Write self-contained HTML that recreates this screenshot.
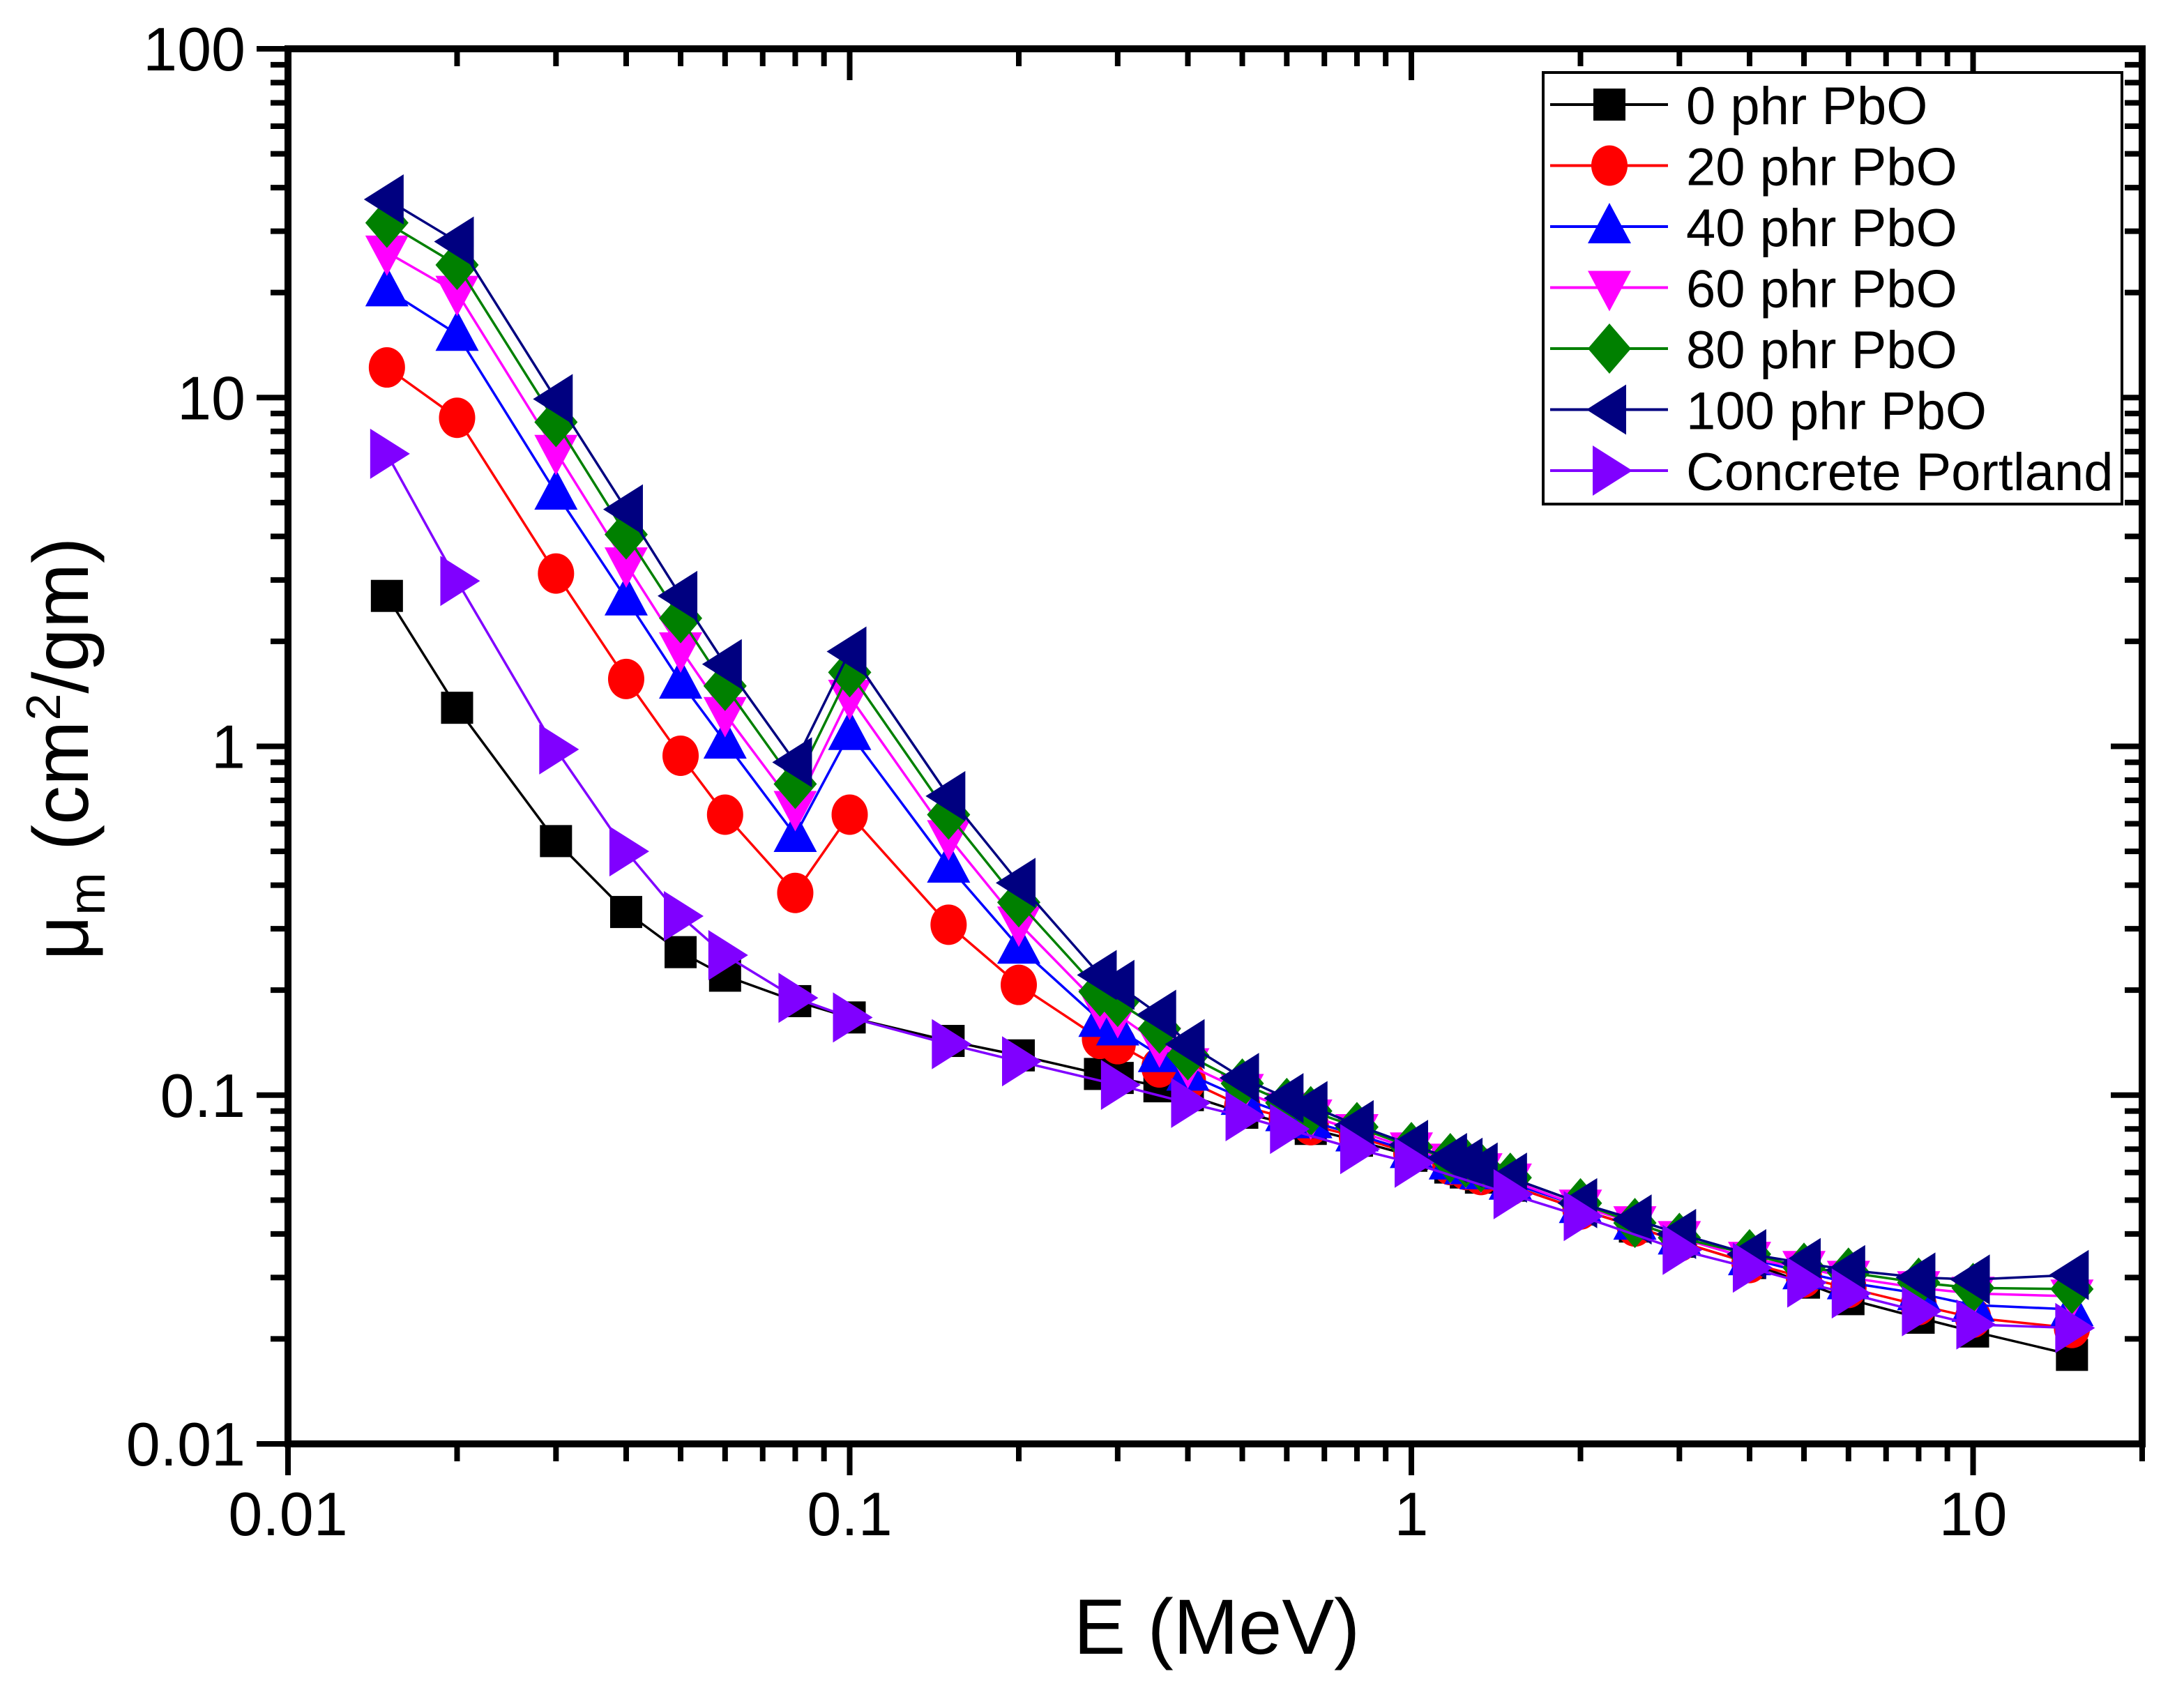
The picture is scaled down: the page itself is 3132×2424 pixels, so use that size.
<!DOCTYPE html>
<html><head><meta charset="utf-8"><style>
html,body{margin:0;padding:0;background:#fff;}
svg{display:block;font-family:"Liberation Sans",Arial,sans-serif;}
</style></head><body>
<svg id="chart" width="3132" height="2424" viewBox="0 0 3132 2424" xmlns="http://www.w3.org/2000/svg">
<rect width="3132" height="2424" fill="#fff"/>
<g id="series"></g>
<g id="axes"></g>
<g id="legend"></g>
<text x="1745" y="2372" font-size="112" text-anchor="middle">E (MeV)</text>
<text transform="translate(126,1074) rotate(-90)" font-size="112" text-anchor="middle">μ<tspan font-size="74" dy="24">m</tspan><tspan dy="-24"> (cm</tspan><tspan font-size="70" dy="-40">2</tspan><tspan dy="40">/gm)</tspan></text>
</svg>
<script>
const energiesPbO = [0.015,0.02,0.03,0.04,0.05,0.06,0.08,0.1,0.15,0.2,0.279,0.3,0.356,0.4,0.5,0.6,0.662,0.8,1,1.173,1.25,1.33,1.5,2,2.5,3,4,5,6,8,10,15];
const energiesConcrete = [0.015,0.02,0.03,0.04,0.05,0.06,0.08,0.1,0.15,0.2,0.3,0.4,0.5,0.6,0.8,1,1.5,2,3,4,5,6,8,10,15];
const pbo0 = [2.7,1.29,0.535,0.335,0.257,0.22,0.186,0.167,0.143,0.13,0.115,0.112,0.106,0.1,0.089,0.083,0.080,0.074,0.067,0.062,0.060,0.058,0.055,0.047,0.042,0.038,0.033,0.029,0.026,0.023,0.021,0.018];
const pbo20 = [12.2,8.75,3.13,1.56,0.94,0.637,0.38,0.637,0.308,0.207,0.145,0.14,0.12,0.11,0.093,0.086,0.082,0.076,0.068,0.063,0.061,0.059,0.055,0.047,0.042,0.038,0.033,0.030,0.028,0.025,0.023,0.0215];
const pbo40 = [20.4,15.2,5.33,2.65,1.53,1.03,0.556,1.09,0.454,0.266,0.164,0.155,0.13,0.115,0.098,0.088,0.084,0.077,0.069,0.064,0.062,0.060,0.056,0.048,0.043,0.039,0.034,0.031,0.029,0.027,0.025,0.0243];
const pbo60 = [26.1,20,7.0,3.33,1.9,1.24,0.667,1.39,0.55,0.311,0.18,0.17,0.14,0.122,0.103,0.091,0.087,0.079,0.070,0.065,0.063,0.061,0.057,0.048,0.043,0.039,0.034,0.032,0.030,0.028,0.027,0.0265];
const pbo80 = [31.7,24,8.5,4.05,2.33,1.49,0.78,1.63,0.637,0.357,0.198,0.185,0.155,0.13,0.108,0.095,0.09,0.081,0.071,0.066,0.064,0.062,0.058,0.049,0.043,0.039,0.035,0.032,0.031,0.029,0.028,0.0278];
const pbo100 = [37,28,9.9,4.78,2.7,1.72,0.9,1.87,0.72,0.406,0.221,0.207,0.17,0.14,0.112,0.098,0.093,0.082,0.072,0.066,0.064,0.062,0.058,0.049,0.044,0.040,0.035,0.033,0.0315,0.030,0.0296,0.0305];
const concrete = [6.9,2.98,0.98,0.5,0.326,0.252,0.19,0.167,0.14,0.125,0.107,0.095,0.087,0.08,0.07,0.064,0.052,0.045,0.036,0.032,0.029,0.027,0.024,0.022,0.0215];
const seriesNames = ["0 phr PbO","20 phr PbO","40 phr PbO","60 phr PbO","80 phr PbO","100 phr PbO","Concrete Portland"];
const xTickValues = [0.01,0.1,1,10];
const xTickLabels = ["0.01","0.1","1","10"];
const yTickValues = [0.01,0.1,1,10,100];
const yTickLabels = ["0.01","0.1","1","10","100"];

const NS="http://www.w3.org/2000/svg";
const L=413,R=3072,T=70,B=2071;
const XMIN=0.01,XMAX=20,YMIN=0.01,YMAX=100;
function xs(v){return L+(Math.log10(v)-Math.log10(XMIN))/(Math.log10(XMAX)-Math.log10(XMIN))*(R-L);}
function ys(v){return B-(Math.log10(v)-Math.log10(YMIN))/(Math.log10(YMAX)-Math.log10(YMIN))*(B-T);}
function mk(tag,attrs,parent){const e=document.createElementNS(NS,tag);for(const k in attrs)e.setAttribute(k,attrs[k]);parent.appendChild(e);return e;}

const styles=[
 {c:"#000000",m:"square",ys:pbo0,xs:energiesPbO},
 {c:"#ff0000",m:"circle",ys:pbo20,xs:energiesPbO},
 {c:"#0000ff",m:"up",ys:pbo40,xs:energiesPbO},
 {c:"#ff00ff",m:"down",ys:pbo60,xs:energiesPbO},
 {c:"#008000",m:"diamond",ys:pbo80,xs:energiesPbO},
 {c:"#000080",m:"left",ys:pbo100,xs:energiesPbO},
 {c:"#8000ff",m:"right",ys:concrete,xs:energiesConcrete}
];
function marker(g,type,x,y,c){
  let e;
  if(type==="square"){e=mk("rect",{x:x-23,y:y-23,width:46,height:46,fill:c},g);}
  else if(type==="circle"){e=mk("ellipse",{cx:x,cy:y,rx:26,ry:29,fill:c},g);}
  else{
    let p;
    if(type==="up")p=[[x,y-34],[x+31,y+24],[x-31,y+24]];
    if(type==="down")p=[[x,y+34],[x+31,y-24],[x-31,y-24]];
    if(type==="diamond")p=[[x,y-36],[x+31,y],[x,y+36],[x-31,y]];
    if(type==="left")p=[[x-33,y],[x+24,y-36],[x+24,y+36]];
    if(type==="right")p=[[x+33,y],[x-24,y-36],[x-24,y+36]];
    e=mk("polygon",{points:p.map(q=>q.join(",")).join(" "),fill:c},g);
  }
  return e;
}
const sg=document.getElementById("series");
styles.forEach((s,i)=>{
  const g=mk("g",{},sg);
  
  
  const pts=s.xs.map((e,j)=>xs(e).toFixed(1)+","+ys(s.ys[j]).toFixed(1)).join(" ");
  const pl=mk("polyline",{points:pts,fill:"none",stroke:s.c,"stroke-width":3.5},g);
  
  
  s.xs.forEach((e,j)=>{
    const m=marker(g,s.m,xs(e),ys(s.ys[j]),s.c);
    
    
  });
});

const ag=document.getElementById("axes");
const fr=mk("rect",{x:L,y:T,width:R-L,height:B-T,fill:"none",stroke:"#000","stroke-width":10},ag);


for(let d=-2;d<=1;d++){
  for(let k=1;k<=9;k++){
    const v=k*Math.pow(10,d); if(v>XMAX) break;
    const x=xs(v); const len=k===1?45:25;
    mk("line",{x1:x,y1:B,x2:x,y2:B+len,stroke:"#000","stroke-width":8},ag);
    mk("line",{x1:x,y1:T,x2:x,y2:T+len,stroke:"#000","stroke-width":8},ag);
  }
}
for(let d=-2;d<=2;d++){
  for(let k=1;k<=9;k++){
    const v=k*Math.pow(10,d); if(v>YMAX) break;
    const y=ys(v); const len=k===1?45:25;
    mk("line",{x1:L,y1:y,x2:L-len,y2:y,stroke:"#000","stroke-width":8},ag);
    mk("line",{x1:R,y1:y,x2:R-len,y2:y,stroke:"#000","stroke-width":8},ag);
  }
}
xTickValues.forEach((v,i)=>{
  const t=mk("text",{x:xs(v),y:2202,"font-size":88,"text-anchor":"middle"},ag);
  t.textContent=xTickLabels[i];
  
  
});
yTickValues.forEach((v,i)=>{
  const t=mk("text",{x:352,y:ys(v)+31,"font-size":88,"text-anchor":"end"},ag);
  t.textContent=yTickLabels[i];
  
  
});

const lg=document.getElementById("legend");
const lb=mk("rect",{x:2213,y:104,width:830,height:619,fill:"#fff",stroke:"#000","stroke-width":4},lg);


styles.forEach((s,i)=>{
  const y=150+i*87.5;
  const g=mk("g",{},lg);
  
  
  mk("line",{x1:2223,y1:y,x2:2392,y2:y,stroke:s.c,"stroke-width":4},g);
  marker(g,s.m,2308,y,s.c);
  const t=mk("text",{x:2418,y:y+28,"font-size":76},g);
  t.textContent=seriesNames[i];
});
</script>
</body></html>
